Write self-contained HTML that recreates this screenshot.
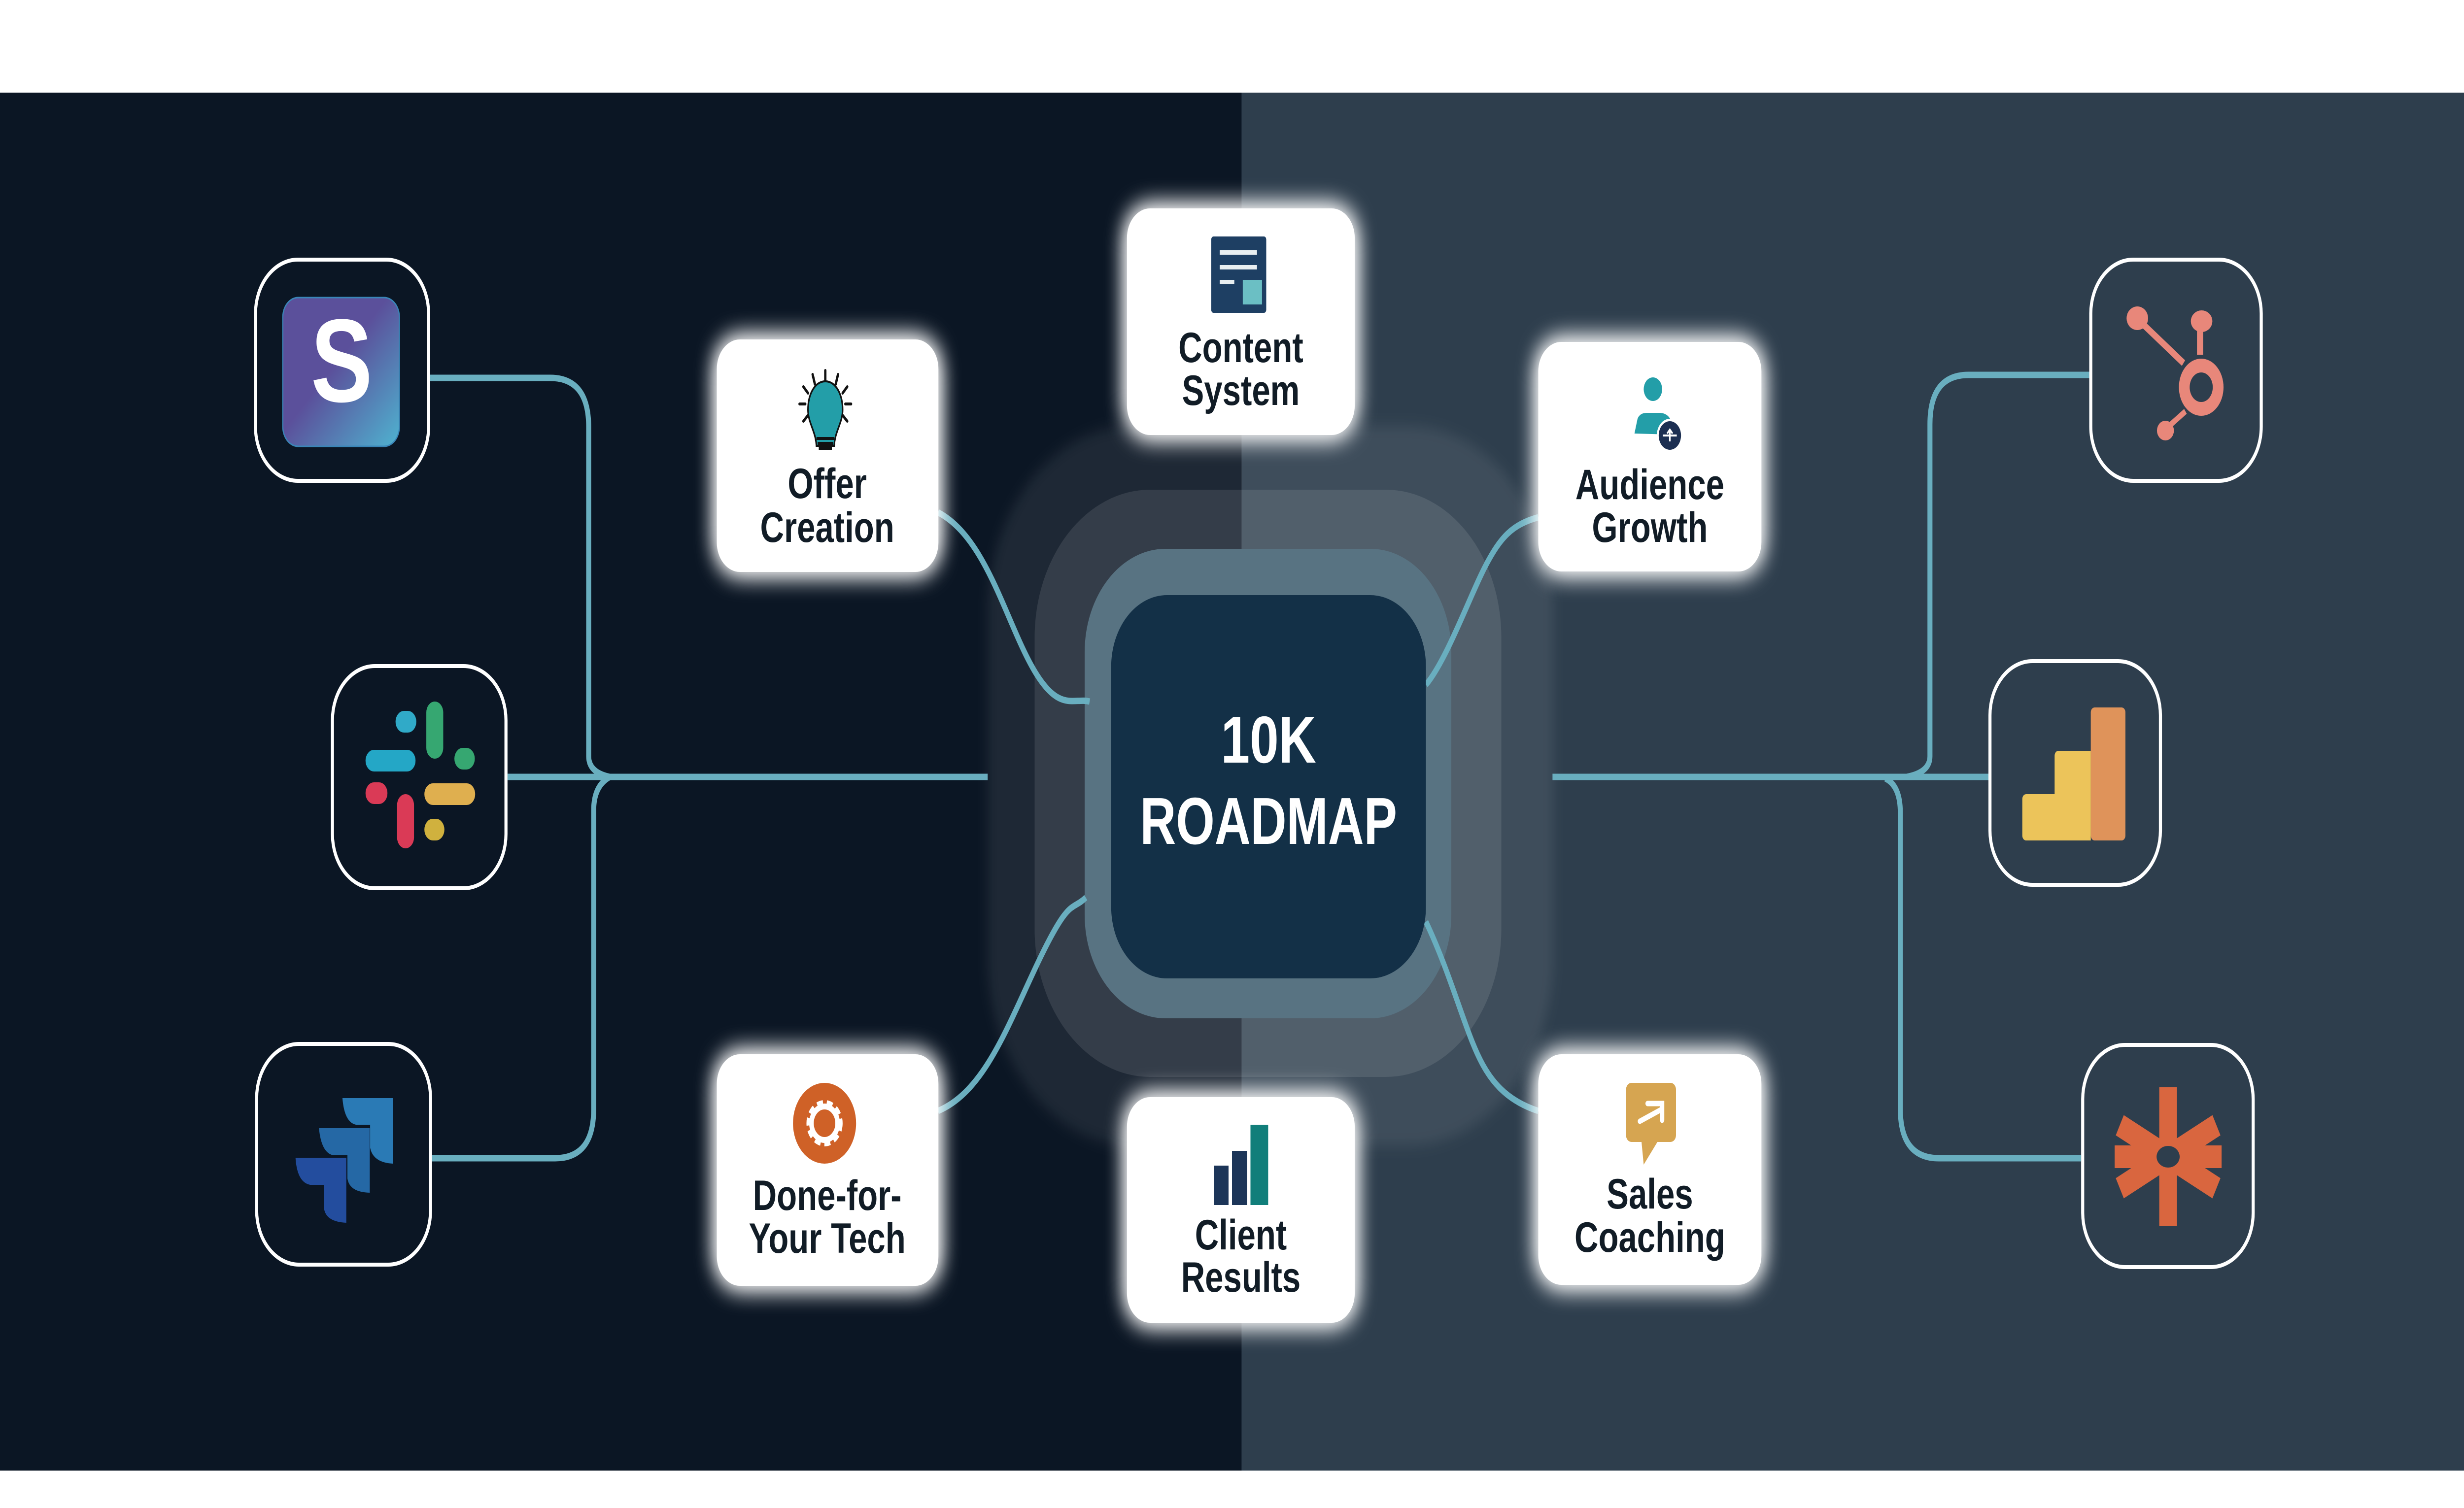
<!DOCTYPE html>
<html><head><meta charset="utf-8"><style>
html,body{margin:0;padding:0;background:#fff;width:100%;height:100%;overflow:hidden;}
svg{display:block;position:fixed;left:0;top:0;width:100vw;height:100vh;}
text{font-family:"Liberation Sans",sans-serif;font-weight:bold;}
</style></head><body>
<svg viewBox="0 0 6404 3061" preserveAspectRatio="none" xmlns="http://www.w3.org/2000/svg">
<defs>
<filter id="glow" x="-30%" y="-30%" width="160%" height="160%">
<feGaussianBlur in="SourceGraphic" stdDeviation="26" result="b"/>
<feMerge><feMergeNode in="b"/><feMergeNode in="b"/><feMergeNode in="SourceGraphic"/></feMerge>
</filter>
<filter id="soft" x="-20%" y="-20%" width="140%" height="140%"><feGaussianBlur stdDeviation="14"/></filter>
<linearGradient id="sg" x1="0" y1="0" x2="1" y2="1"><stop offset="0.45" stop-color="#5b509b"/><stop offset="1" stop-color="#4fb3d0"/></linearGradient>
</defs>
<rect x="0" y="0" width="6404" height="3061" fill="#fff"/>
<rect x="0" y="188" width="3227" height="2797" fill="#0b1624"/>
<rect x="3227" y="188" width="3177" height="2797" fill="#2e3e4d"/>

<rect x="2567" y="864" width="1470" height="1462" rx="380" fill="#fff" fill-opacity="0.08" filter="url(#soft)"/>
<rect x="2689" y="994" width="1213" height="1192" rx="300" fill="#fff" fill-opacity="0.1"/>
<rect x="2819" y="1114" width="953" height="953" rx="210" fill="#587382"/>

<g fill="none" stroke="#69aebf" stroke-width="13">
<path d="M1118,767 H1430 Q1530,767 1530,867 V1535 Q1530,1568 1585,1577"/>
<path d="M1585,1577 Q1543,1595 1543,1645 V2251 Q1543,2351 1443,2351 H1123"/>
<path d="M1319,1577 H2567"/>
<path d="M5430,761 H5116 Q5016,761 5016,861 V1535 Q5016,1568 4955,1577"/>
<path d="M4035,1577 H5168"/>
<path d="M4900,1580 Q4939,1595 4939,1650 V2251 Q4939,2351 5039,2351 H5409"/>
<path d="M2438,1040 C2560,1090 2610,1250 2680,1350 S2790,1415 2832,1424"/>
<path d="M2438,2255 C2560,2215 2620,2080 2700,1950 S2785,1850 2822,1822"/>
<path d="M3998,1050 C3930,1065 3900,1090 3860,1150 S3760,1340 3706,1390"/>
<path d="M3998,2255 C3900,2230 3860,2180 3827,2116 S3760,1960 3706,1871"/>
</g>

<rect x="2888" y="1208" width="818" height="778" rx="145" fill="#133047"/>
<text x="3297" y="1548" font-size="135" fill="#fff" text-anchor="middle">10K</text>
<text x="3297" y="1713" font-size="135" fill="#fff" text-anchor="middle" textLength="668" lengthAdjust="spacingAndGlyphs">ROADMAP</text>

<g fill="#fff" filter="url(#glow)">
<rect x="2929" y="423" width="592" height="460" rx="60"/>
<rect x="1863" y="689" width="576" height="472" rx="60"/>
<rect x="3998" y="694" width="580" height="466" rx="60"/>
<rect x="1863" y="2140" width="576" height="470" rx="60"/>
<rect x="2929" y="2227" width="592" height="458" rx="60"/>
<rect x="3998" y="2140" width="580" height="468" rx="60"/>
</g>
<g fill="#111c26" font-size="86" text-anchor="middle">
<text x="3225" y="735">Content</text><text x="3225" y="822">System</text>
<text x="2150" y="1011">Offer</text><text x="2150" y="1100">Creation</text>
<text x="4288" y="1013">Audience</text><text x="4288" y="1100">Growth</text>
<text x="2150" y="2456">Done-for-</text><text x="2150" y="2543">Your Tech</text>
<text x="3225" y="2536">Client</text><text x="3225" y="2622">Results</text>
<text x="4288" y="2453">Sales</text><text x="4288" y="2541">Coaching</text>
</g>

<rect x="3148" y="480" width="143" height="155" rx="6" fill="#1e3f63"/>
<rect x="3170" y="508" width="97" height="9" fill="#e8eef0"/>
<rect x="3170" y="538" width="97" height="9" fill="#e8eef0"/>
<rect x="3170" y="568" width="38" height="9" fill="#e8eef0"/>
<rect x="3230" y="568" width="50" height="50" fill="#6bbfc4"/>
<g stroke="#111" stroke-width="6" stroke-linecap="round">
<line x1="2145" y1="752" x2="2145" y2="775"/><line x1="2112" y1="760" x2="2118" y2="780"/><line x1="2178" y1="760" x2="2172" y2="780"/>
<line x1="2088" y1="785" x2="2100" y2="798"/><line x1="2202" y1="785" x2="2190" y2="798"/>
<line x1="2078" y1="820" x2="2093" y2="820"/><line x1="2197" y1="820" x2="2212" y2="820"/>
<line x1="2088" y1="855" x2="2100" y2="843"/><line x1="2202" y1="855" x2="2190" y2="843"/>
</g>
<path d="M2145,774 C2118,774 2100,800 2100,832 C2100,858 2120,875 2122,905 H2168 C2170,875 2190,858 2190,832 C2190,800 2172,774 2145,774 Z" fill="#239ea8" stroke="#111" stroke-width="4"/>
<rect x="2122" y="887" width="46" height="6" fill="#111"/><rect x="2125" y="897" width="40" height="6" fill="#111"/><rect x="2128" y="907" width="34" height="6" fill="#111"/>
<circle cx="4296" cy="790" r="24" fill="#239ea8"/>
<path d="M4248,880 L4256,850 Q4262,838 4280,838 H4316 Q4340,840 4345,860 L4340,882 Z" fill="#239ea8"/>
<circle cx="4340" cy="884" r="34" fill="#fff"/><circle cx="4340" cy="884" r="29" fill="#1c2f52"/>
<path d="M4322,884 H4358 M4340,872 V896 M4333,880 L4340,872 L4347,880" stroke="#fff" stroke-width="4" fill="none"/>
<circle cx="2143" cy="2280" r="82" fill="#cf6127"/>
<circle cx="2143" cy="2280" r="38" fill="none" stroke="#fff" stroke-width="18" stroke-dasharray="14 9"/>
<circle cx="2143" cy="2280" r="34" fill="none" stroke="#fff" stroke-width="12"/>
<circle cx="2143" cy="2280" r="26" fill="#cf6127"/>
<rect x="3155" y="2366" width="38" height="80" fill="#1c3558"/>
<rect x="3202" y="2336" width="39" height="110" fill="#1c3558"/>
<rect x="3250" y="2283" width="46" height="163" fill="#117e7a"/>
<rect x="4226" y="2198" width="130" height="120" rx="14" fill="#d6a551"/>
<path d="M4266,2315 L4272,2364 L4310,2315 Z" fill="#d6a551"/>
<path d="M4262,2276 L4318,2252 M4282,2240 H4320 V2274" stroke="#fff" stroke-width="11" fill="none" stroke-linecap="round"/>

<g fill="none" stroke="#fff" stroke-width="8">
<rect x="664" y="527" width="450" height="449" rx="110"/>
<rect x="864" y="1352" width="451" height="451" rx="110"/>
<rect x="667" y="2119" width="452" height="448" rx="110"/>
<rect x="5434" y="527" width="443" height="449" rx="110"/>
<rect x="5172" y="1342" width="443" height="454" rx="110"/>
<rect x="5413" y="2121" width="443" height="451" rx="110"/>
</g>
<rect x="735" y="604" width="303" height="302" rx="40" fill="url(#sg)" stroke="#3a86b8" stroke-width="3"/>
<text x="888" y="815" font-size="240" fill="#fff" text-anchor="middle">S</text>
<g stroke-linecap="round" stroke-width="44" fill="none">
<line x1="972" y1="1544" x2="1058" y2="1544" stroke="#24a7c6"/>
<line x1="1050" y1="1465" x2="1060" y2="1465" stroke="#30aac8"/>
<line x1="1130" y1="1446" x2="1130" y2="1518" stroke="#36a771"/>
<line x1="1203" y1="1540" x2="1212" y2="1540" stroke="#36a771"/>
<line x1="1125" y1="1612" x2="1213" y2="1612" stroke="#dfaf4f"/>
<line x1="1125" y1="1684" x2="1133" y2="1684" stroke="#d0b13e"/>
<line x1="1054" y1="1634" x2="1054" y2="1700" stroke="#da3a56"/>
<line x1="972" y1="1610" x2="985" y2="1610" stroke="#da3a56"/>
</g>
<path d="M890,2229 H1021 V2362 Q970,2360 962,2330 V2283 H925 Q895,2278 890,2229 Z" fill="#2a7ab5"/>
<path d="M829,2290 H961 V2421 Q908,2420 903,2392 V2345 H866 Q835,2340 829,2290 Z" fill="#2568a5"/>
<path d="M768,2350 H900 V2482 Q846,2480 842,2452 V2405 H806 Q772,2400 768,2350 Z" fill="#234d9e"/>
<g fill="#e8877a">
<circle cx="5721" cy="786" r="58"/>
<line x1="5559" y1="650" x2="5675" y2="737" stroke="#e8877a" stroke-width="14"/>
<rect x="5710" y="670" width="16" height="50"/>
<ellipse cx="5722" cy="652" rx="28" ry="22"/>
<ellipse cx="5555" cy="646" rx="28" ry="24"/>
<line x1="5630" y1="870" x2="5680" y2="835" stroke="#e8877a" stroke-width="12"/>
<ellipse cx="5628" cy="874" rx="22" ry="20"/>
</g>
<circle cx="5721" cy="786" r="30" fill="#2e3e4d"/>
<rect x="5256" y="1612" width="140" height="94" rx="10" fill="#ecc45a"/>
<rect x="5340" y="1524" width="90" height="182" rx="10" fill="#ecc45a"/>
<rect x="5434" y="1436" width="90" height="270" rx="10" fill="#df935a"/>
<rect x="5420" y="1524" width="14" height="182" fill="#ecc45a"/>
<g fill="#d9663f">
<rect x="5612" y="2207" width="46" height="282"/>
<rect x="5496" y="2325" width="278" height="46"/>
<rect x="5612" y="2207" width="46" height="282" transform="rotate(63 5635 2348)"/>
<rect x="5612" y="2207" width="46" height="282" transform="rotate(-63 5635 2348)"/>
</g>
<ellipse cx="5635" cy="2348" rx="30" ry="22" fill="#2e3e4d"/>
</svg>
</body></html>
